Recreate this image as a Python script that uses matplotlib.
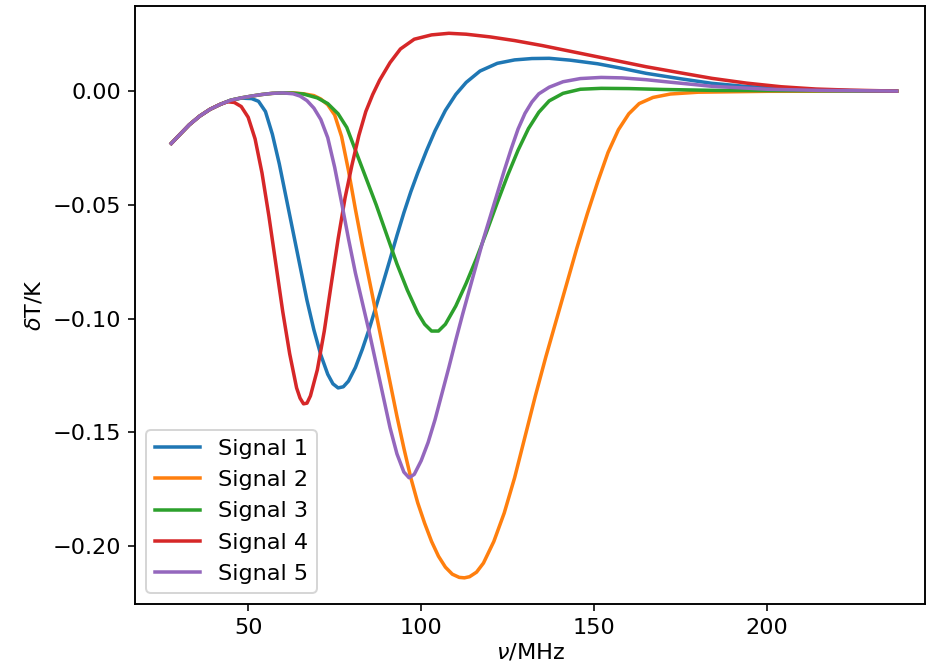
import matplotlib
matplotlib.use("Agg")
import matplotlib.pyplot as plt

plt.rcParams["font.size"] = 11.2
plt.rcParams["lines.linewidth"] = 1.75
plt.rcParams["axes.linewidth"] = 0.95

# frequencies (MHz) and brightness temperature (K)
nu_1 = [27.8, 30, 33, 36, 39, 42, 45, 48, 51, 53, 55, 57, 59, 61, 63, 65, 67, 69, 71, 73,
        74.5, 76, 77.5, 79, 81, 83, 85, 87, 89, 91, 93, 95, 97, 99, 101.6, 104, 107, 110, 113,
        117, 122, 127, 132, 137, 143, 151, 158, 165, 175, 184, 194, 204, 214, 224, 237.4]
dT_1 = [-0.023, -0.0195, -0.0148, -0.011, -0.008, -0.0058, -0.004, -0.0031, -0.0033, -0.0045,
        -0.009, -0.019, -0.032, -0.047, -0.062, -0.077, -0.092, -0.105, -0.116, -0.1245,
        -0.1287, -0.1305, -0.130, -0.1275, -0.1215, -0.1135, -0.1045, -0.0945, -0.0843,
        -0.074, -0.0635, -0.0535, -0.0443, -0.036, -0.026, -0.0175, -0.0085, -0.0015, 0.0038,
        0.0088, 0.0122, 0.0137, 0.0143, 0.0144, 0.0136, 0.012, 0.010, 0.0078, 0.0054, 0.0034,
        0.002, 0.0012, 0.0006, 0.0002, 0.0]

nu_2 = [27.8, 30, 33, 36, 39, 42, 45, 48, 51, 54, 57, 60, 63, 66, 69, 71, 73, 75, 77, 79,
        81, 83, 85, 87, 89, 91, 93, 95, 97, 99, 101, 103, 105, 107, 109, 111, 112.5, 114,
        116, 118, 121, 124, 127, 130, 133, 136, 139, 142, 145, 148, 151, 154, 157, 160,
        163, 167, 172, 180, 200, 237.4]
dT_2 = [-0.023, -0.0195, -0.0148, -0.011, -0.008, -0.0058, -0.004, -0.003, -0.0022, -0.0015,
        -0.001, -0.0008, -0.0008, -0.0012, -0.002, -0.0035, -0.006, -0.0105, -0.020, -0.035,
        -0.052, -0.068, -0.083, -0.098, -0.113, -0.128, -0.143, -0.157, -0.170, -0.181,
        -0.190, -0.198, -0.2045, -0.2093, -0.2124, -0.2138, -0.214, -0.2135,
        -0.2115, -0.2075, -0.198, -0.1855, -0.170, -0.152, -0.134, -0.117, -0.101, -0.085,
        -0.069, -0.054, -0.040, -0.027, -0.017, -0.010,
        -0.0055, -0.0028, -0.0013, -0.0005, -0.0001, 0.0]

nu_3 = [27.8, 30, 33, 36, 39, 42, 45, 48, 51, 54, 57, 60, 63, 66, 70, 73, 76, 78.5, 81, 84,
        87, 90, 93, 96, 99, 101, 103, 105, 107, 110, 113, 116, 119, 122, 125, 128, 131, 134,
        137, 141, 146, 152, 160, 170, 185, 237.4]
dT_3 = [-0.023, -0.0195, -0.0148, -0.011, -0.008, -0.0058, -0.004, -0.003, -0.0022, -0.0015,
        -0.001, -0.0008, -0.0009, -0.0013, -0.003, -0.0055, -0.010, -0.016, -0.026, -0.038,
        -0.050, -0.063, -0.076, -0.0875, -0.0975, -0.1025, -0.1055, -0.1055, -0.1025, -0.0945,
        -0.0845, -0.0735, -0.0615, -0.049, -0.037, -0.026, -0.0165, -0.0093,
        -0.0043, -0.001, 0.0008, 0.0012, 0.0011, 0.0007, 0.0003, 0.0]

nu_4 = [27.8, 30, 33, 36, 39, 42, 44, 46, 48, 50, 52, 54, 56, 58, 60, 62, 64, 65, 66, 67,
        68, 70, 72, 74, 76, 78, 80, 82, 84, 86, 88, 91, 94, 98, 103, 108, 113, 120, 127, 135,
        146, 156, 165, 175, 184, 194, 204, 214, 224, 237.4]
dT_4 = [-0.023, -0.0195, -0.0148, -0.011, -0.008, -0.0058, -0.0047, -0.005, -0.0068, -0.0115,
        -0.021, -0.036, -0.055, -0.076, -0.097, -0.1155, -0.1305, -0.135, -0.1375, -0.1372,
        -0.134, -0.1225, -0.1055, -0.085, -0.065, -0.047, -0.0325, -0.0195, -0.009, -0.0015,
        0.0048, 0.0125, 0.0185, 0.0228, 0.0247, 0.0254, 0.025, 0.0238, 0.0222, 0.020,
        0.0166, 0.0135, 0.0107, 0.008, 0.0056, 0.0035, 0.0019, 0.0009, 0.0004, 0.0]

nu_5 = [27.8, 30, 33, 36, 39, 42, 45, 48, 51, 54, 57, 60, 63, 65, 67, 69, 71, 73, 75, 77,
        79, 81, 83, 85, 87, 89, 91, 93, 95, 96.5, 98, 100, 102, 104, 106, 108, 110, 112,
        114, 116, 118, 120, 122, 124, 126, 128, 130, 132, 134, 137, 141, 146, 152, 158,
        165, 172, 184, 200, 215, 237.4]
dT_5 = [-0.023, -0.0195, -0.0148, -0.011, -0.008, -0.0058, -0.004, -0.003, -0.0022, -0.0015,
        -0.001, -0.0008, -0.0012, -0.0022, -0.0042, -0.0075, -0.0125, -0.0205, -0.0335, -0.049,
        -0.065, -0.080, -0.093, -0.106, -0.120, -0.134, -0.148, -0.1595, -0.1675, -0.170,
        -0.1685, -0.1625, -0.1545, -0.1445, -0.133, -0.1215, -0.1095, -0.098,
        -0.087, -0.076, -0.065, -0.055, -0.045, -0.035, -0.0255, -0.0167, -0.0098, -0.0048,
        -0.0012, 0.0017, 0.0041, 0.0055, 0.006, 0.0058,
        0.005, 0.0039, 0.0021, 0.0008, 0.0003, 0.0]

labels = ["Signal 1", "Signal 2", "Signal 3", "Signal 4", "Signal 5"]

fig = plt.figure(figsize=(926 / 144, 670 / 144), dpi=144)
ax = fig.add_axes([135 / 926, 66 / 670, 790 / 926, 598 / 670])

for nu, dT, lab in zip([nu_1, nu_2, nu_3, nu_4, nu_5],
                       [dT_1, dT_2, dT_3, dT_4, dT_5], labels):
    ax.plot(nu, dT, label=lab)

ax.set_xlim(17.3, 245.6)
ax.set_ylim(-0.2255, 0.0374)
ax.set_xlabel(r"$\nu$/MHz", labelpad=2)
ax.set_ylabel(r"$\delta$T/K")
ax.legend(loc="lower left")

fig.savefig("out.png", dpi=144)
